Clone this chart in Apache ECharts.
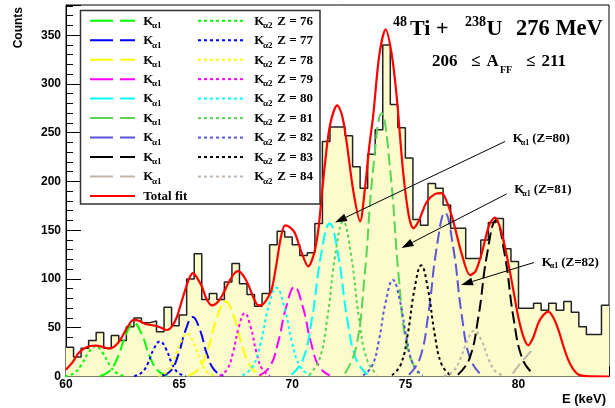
<!DOCTYPE html>
<html>
<head>
<meta charset="utf-8">
<script src="https://cdn.jsdelivr.net/npm/echarts/dist/echarts.min.js"></script>
<style>
html, body { margin: 0; padding: 0; background: #fff; }
#chart { width: 615px; height: 408px; }
</style>
</head>
<body>
<div id="chart"></div>
<script>
// histogram: 1/3 keV bins starting at 60 keV
const binStart = 60;
const binWidth = 1 / 3;
const counts = [
  30, 20, 29, 37, 45, 29, 42, 37, 51, 60,
  55, 57, 46, 71, 52, 63, 100, 126, 79, 85,
  79, 97, 116, 95, 84, 72, 85, 135, 149, 143,
  135, 124, 127, 157, 241, 256, 256, 247, 215, 193,
  228, 253, 340, 279, 255, 224, 161, 155, 198, 193,
  176, 152, 152, 121, 121, 140, 158, 162, 131, 118,
  70, 70, 75, 68, 75, 68, 77, 66, 51, 43,
  43, 73
];

// total fit
const totalFit = [
  [60.0, 7], [60.3, 15], [60.56, 24], [60.9, 30], [61.3, 31.6], [61.6, 30.5], [61.89, 28.6],
  [62.15, 31], [62.4, 37.5], [62.7, 50], [62.99, 58], [63.25, 57], [63.5, 54], [63.95, 52],
  [64.2, 50], [64.46, 47.7], [64.7, 52], [64.9, 61], [65.1, 76], [65.27, 89], [65.45, 101],
  [65.61, 106], [65.8, 101], [66.01, 92], [66.2, 80], [66.44, 73], [66.65, 75], [66.88, 82],
  [67.2, 97], [67.45, 106], [67.62, 108], [67.85, 103], [68.06, 94], [68.3, 80], [68.5, 73],
  [68.7, 74], [68.9, 80], [69.09, 89], [69.3, 115], [69.5, 143], [69.68, 155], [69.9, 153],
  [70.12, 147], [70.4, 128], [70.71, 113], [70.95, 125], [71.15, 150], [71.3, 185], [71.45, 219],
  [71.67, 258], [71.99, 278], [72.2, 268], [72.4, 241], [72.7, 190], [73.0, 159], [73.2, 190],
  [73.4, 235], [73.58, 268], [73.85, 330], [74.13, 356], [74.4, 330], [74.62, 286], [74.9, 210],
  [75.15, 165], [75.35, 152], [75.6, 160], [75.94, 179], [76.3, 187], [76.6, 188], [76.9, 175],
  [77.12, 159], [77.5, 125], [77.86, 104], [78.1, 108], [78.37, 126], [78.7, 155], [78.96, 163],
  [79.25, 148], [79.55, 116], [79.8, 85], [79.99, 61], [80.2, 42], [80.43, 32], [80.65, 40],
  [80.88, 55], [81.1, 63], [81.32, 66.5], [81.55, 60], [81.76, 48], [82.0, 30], [82.2, 17],
  [82.4, 8], [82.64, 2], [83.0, 0.3], [84, 0]
];

const ka2_76 = [[59.95, 0.3], [60.36, 3.4], [60.67, 11.6], [60.99, 24.3], [61.3, 31], [61.62, 24.3], [61.93, 11.6], [62.25, 3.4], [62.65, 0.3]];
const ka1_76 = [[61.5, 0.6], [61.95, 6.1], [62.3, 20.6], [62.65, 43.1], [63.0, 55], [63.35, 43.1], [63.7, 20.6], [64.05, 6.1], [64.5, 0.6]];
const ka2_77 = [[63.01, 0.4], [63.35, 4.0], [63.62, 13.5], [63.88, 28.2], [64.15, 36], [64.42, 28.2], [64.68, 13.5], [64.95, 4.0], [65.29, 0.4]];
const ka1_77 = [[64.25, 0.7], [64.66, 6.7], [64.97, 22.9], [65.29, 47.8], [65.6, 61], [65.92, 47.8], [66.23, 22.9], [66.55, 6.7], [66.95, 0.7]];
const ka2_78 = [[64.09, 0.5], [64.47, 4.8], [64.76, 16.5], [65.06, 34.5], [65.35, 44], [65.64, 34.5], [65.94, 16.5], [66.23, 4.8], [66.61, 0.5]];
const ka1_78 = [[65.4, 0.8], [65.9, 8.5], [66.28, 28.9], [66.67, 60.3], [67.05, 77], [67.44, 60.3], [67.82, 28.9], [68.21, 8.5], [68.7, 0.8]];
const ka2_79 = [[66.79, 0.7], [67.12, 7.2], [67.38, 24.4], [67.64, 50.9], [67.9, 65], [68.16, 50.9], [68.42, 24.4], [68.68, 7.2], [69.01, 0.7]];
const ka1_79 = [[68.54, 1.0], [69.01, 10.1], [69.37, 34.5], [69.74, 72.0], [70.1, 92], [70.46, 72.0], [70.83, 34.5], [71.19, 10.1], [71.66, 1.0]];
const ka2_80 = [[67.8, 1.0], [68.25, 10.0], [68.6, 34.1], [68.95, 71.3], [69.3, 91], [69.65, 71.3], [70.0, 34.1], [70.35, 10.0], [70.8, 1.0]];
const ka1_80 = [[69.97, 1.7], [70.47, 17.3], [70.87, 58.9], [71.26, 122.9], [71.65, 157], [72.04, 122.9], [72.43, 58.9], [72.83, 17.3], [73.33, 1.7]];
const ka2_81 = [[70.75, 1.7], [71.2, 17.5], [71.55, 59.6], [71.9, 124.5], [72.25, 159], [72.6, 124.5], [72.95, 59.6], [73.3, 17.5], [73.75, 1.7]];
const ka1_81 = [[72.33, 3.0], [72.82, 29.7], [73.19, 101.3], [73.57, 211.4], [73.95, 270], [74.33, 211.4], [74.71, 101.3], [75.08, 29.7], [75.57, 3.0]];
const ka2_82 = [[73.13, 1.1], [73.53, 10.9], [73.83, 37.1], [74.14, 77.5], [74.45, 99], [74.76, 77.5], [75.07, 37.1], [75.37, 10.9], [75.77, 1.1]];
const ka1_82 = [[75.16, 1.8], [75.64, 18.5], [76.01, 63], [76.38, 131.5], [76.75, 168], [77.12, 131.5], [77.49, 63], [77.86, 18.5], [78.34, 1.8]];
const ka2_83 = [[74.41, 1.3], [74.8, 12.5], [75.1, 42.8], [75.4, 89.3], [75.7, 114], [76.0, 89.3], [76.3, 42.8], [76.6, 12.5], [76.99, 1.3]];
const ka1_83 = [[77.32, 1.8], [77.82, 17.6], [78.22, 60], [78.61, 125.3], [79.0, 160], [79.39, 125.3], [79.78, 60], [80.18, 17.6], [80.68, 1.8]];
const ka2_84 = [[76.7, 0.5], [77.11, 5.2], [77.42, 17.6], [77.74, 36.8], [78.05, 47], [78.37, 36.8], [78.68, 17.6], [78.99, 5.2], [79.4, 0.5]];
const ka1_84 = [[79.75, 3], [80.1, 14], [80.6, 27]];

const zValues = [76, 77, 78, 79, 80, 81, 82, 83, 84];
const zColors = ['#00ff00', '#0000ff', '#ffff00', '#ff00ff', '#00ffff', '#59d454', '#5954d8', '#000000', '#bfb5aa'];
const ka1Data = [ka1_76, ka1_77, ka1_78, ka1_79, ka1_80, ka1_81, ka1_82, ka1_83, ka1_84];
const ka2Data = [ka2_76, ka2_77, ka2_78, ka2_79, ka2_80, ka2_81, ka2_82, ka2_83, ka2_84];

const SERIF = '"Liberation Serif", "DejaVu Serif", serif';
const SANS = '"Liberation Sans", Arial, sans-serif';
const DASH = [12, 5];
const DOT = [3, 3];

const histData = counts.map((c, i) => [binStart + i * binWidth, c]);
histData.push([binStart + counts.length * binWidth, counts[counts.length - 1]]);

const series = [{
  name: 'data',
  type: 'line',
  step: 'end',
  data: histData,
  symbol: 'none',
  lineStyle: { color: '#222', width: 1.5 },
  areaStyle: { color: '#fcfbcc', opacity: 1 },
  z: 1
}];

zValues.forEach((z, i) => {
  series.push({
    name: 'Ka2 Z=' + z, type: 'line', data: ka2Data[i], symbol: 'none', smooth: 0.45,
    lineStyle: { color: zColors[i], width: 2, type: DOT }, z: 3
  });
  series.push({
    name: 'Ka1 Z=' + z, type: 'line', data: ka1Data[i], symbol: 'none', smooth: 0.45,
    lineStyle: { color: zColors[i], width: 2, type: DASH }, z: 3
  });
});

series.push({
  name: 'Total fit', type: 'line', data: totalFit, symbol: 'none', smooth: 0.3,
  lineStyle: { color: '#ff0000', width: 2.2 }, z: 4
});

// text helpers
function txt(x, y, text, size, font, extra) {
  return Object.assign({
    type: 'text', z: 101,
    style: { x: x, y: y, text: text, font: 'bold ' + size + 'px ' + (font || SERIF), fill: '#000', align: 'left', verticalAlign: 'middle' }
  }, extra || {});
}

function arrow(x1, y1, x2, y2) {
  const a = Math.atan2(y2 - y1, x2 - x1), L = 12, W = 4;
  const bx = x2 - L * Math.cos(a), by = y2 - L * Math.sin(a);
  return [
    { type: 'line', z: 101, shape: { x1: x1, y1: y1, x2: bx, y2: by }, style: { stroke: '#000', lineWidth: 1 } },
    { type: 'polygon', z: 101, shape: { points: [[x2, y2], [bx + W * Math.sin(a), by - W * Math.cos(a)], [bx - W * Math.sin(a), by + W * Math.cos(a)]] }, style: { fill: '#000' } }
  ];
}

const graphic = [];

// legend box
graphic.push({ type: 'rect', z: 100, shape: { x: 80.5, y: 10.5, width: 239.5, height: 193.5 }, style: { fill: '#fff', stroke: '#333', lineWidth: 1.5 } });
zValues.forEach((z, i) => {
  const y = 20.7 + 19.48 * i;
  graphic.push({ type: 'line', z: 101, shape: { x1: 90, y1: y, x2: 135, y2: y }, style: { stroke: zColors[i], lineWidth: 2, lineDash: [23, 7] } });
  graphic.push(txt(143.3, y + 0.5, 'K', 13));
  graphic.push(txt(152, y + 5, 'α1', 9));
  graphic.push({ type: 'line', z: 101, shape: { x1: 198, y1: y, x2: 245, y2: y }, style: { stroke: zColors[i], lineWidth: 2, lineDash: DOT } });
  graphic.push(txt(254.3, y + 0.5, 'K', 13));
  graphic.push(txt(263, y + 5, 'α2', 9));
  graphic.push(txt(277.3, y + 0.5, 'Z = ' + z, 13));
});
graphic.push({ type: 'line', z: 101, shape: { x1: 90, y1: 196, x2: 135, y2: 196 }, style: { stroke: '#ff0000', lineWidth: 2 } });
graphic.push(txt(143.3, 196.5, 'Total fit', 13));

// reaction title
graphic.push(txt(393, 22.5, '48', 14));
graphic.push(txt(410, 29, 'Ti +', 22));
graphic.push(txt(465, 22.5, '238', 14));
graphic.push(txt(486.5, 29, 'U', 22));
graphic.push(txt(516, 29, '276 MeV', 22.5));
graphic.push(txt(432, 61.5, '206', 17));
graphic.push(txt(471, 61.5, '≤', 17));
graphic.push(txt(486.5, 61.5, 'A', 17));
graphic.push(txt(500, 70, 'FF', 10));
graphic.push(txt(526, 61.5, '≤', 17));
graphic.push(txt(541.5, 61.5, '211', 17));

// annotations
[[512.7, 139, 'Z=80'], [514.3, 190, 'Z=81'], [541.7, 262.3, 'Z=82']].forEach(function (a) {
  graphic.push(txt(a[0], a[1], 'K', 13));
  graphic.push(txt(a[0] + 8, a[1] + 4, 'α1', 8));
  graphic.push(txt(a[0] + 19.5, a[1], '(' + a[2] + ')', 13));
});
graphic.push.apply(graphic, arrow(505, 141.5, 335, 222.5));
graphic.push.apply(graphic, arrow(506.5, 194, 401.5, 248));
graphic.push.apply(graphic, arrow(534, 262.5, 461, 285));

// axis titles
graphic.push({ type: 'text', z: 101, x: 19, y: 7, rotation: Math.PI / 2,
  style: { x: 0, y: 0, text: 'Counts', font: 'bold 12px ' + SANS, fill: '#000', align: 'right', verticalAlign: 'middle' } });
graphic.push({ type: 'text', z: 101,
  style: { x: 606, y: 399, text: 'E (keV)', font: 'bold 13px ' + SANS, fill: '#000', align: 'right', verticalAlign: 'middle' } });

const chart = echarts.init(document.getElementById('chart'));
chart.setOption({
  animation: false,
  backgroundColor: '#fff',
  grid: { left: 66, top: 5, width: 543, height: 371.5, show: true, borderColor: '#000', borderWidth: 1, backgroundColor: 'transparent' },
  xAxis: {
    type: 'value', min: 60, max: 84, interval: 5,
    axisLine: { lineStyle: { color: '#000', width: 1 } },
    axisTick: { inside: true, length: 10, lineStyle: { color: '#000' } },
    minorTick: { show: true, splitNumber: 5, length: 5, lineStyle: { color: '#000' } },
    axisLabel: { color: '#000', fontFamily: SANS, fontWeight: 'bold', fontSize: 12, margin: 2, showMaxLabel: false },
    splitLine: { show: false }
  },
  yAxis: {
    type: 'value', min: 0, max: 381, interval: 50,
    axisLine: { show: true, lineStyle: { color: '#000', width: 1 } },
    axisTick: { show: true, inside: true, length: 15, lineStyle: { color: '#000' } },
    minorTick: { show: true, splitNumber: 5, length: 7, lineStyle: { color: '#000' } },
    axisLabel: { color: '#000', fontFamily: SANS, fontWeight: 'bold', fontSize: 12, margin: 5, showMaxLabel: false },
    splitLine: { show: false }
  },
  series: series,
  graphic: graphic
});
</script>
</body>
</html>
